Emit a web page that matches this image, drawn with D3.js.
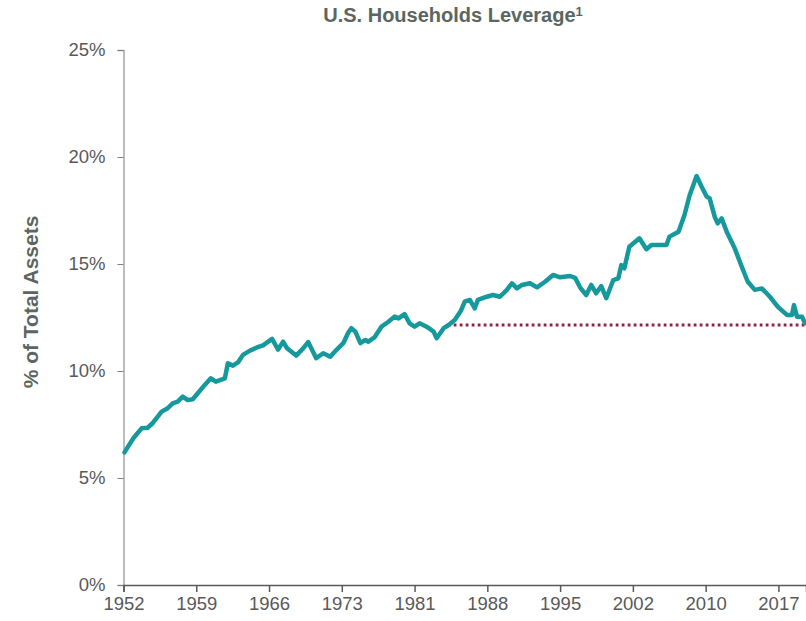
<!DOCTYPE html>
<html>
<head>
<meta charset="utf-8">
<script src="https://cdn.jsdelivr.net/npm/d3@7"></script>
<style>
  html, body { margin: 0; padding: 0; background: #fff; }
  svg { display: block; }
</style>
</head>
<body>
<svg id="chart" width="806" height="621"></svg>
<script>
// ---- data ----
const years = [1952.1,1952.5,1953.0,1953.8,1954.4,1954.9,1955.8,1956.4,1956.9,1957.4,1957.9,1958.4,1958.9,1959.4,1960.1,1960.7,1961.2,1962.1,1962.4,1962.9,1963.4,1963.9,1964.6,1965.3,1965.9,1966.8,1967.4,1967.9,1968.3,1969.2,1969.9,1970.4,1971.2,1971.9,1972.6,1973.2,1973.9,1974.4,1974.7,1975.1,1975.6,1976.1,1976.4,1977.0,1977.7,1978.4,1979.0,1979.4,1980.0,1980.5,1981.0,1981.5,1982.2,1982.9,1983.2,1983.9,1984.4,1985.0,1985.6,1986.0,1986.5,1987.0,1987.3,1988.2,1988.8,1989.5,1990.2,1990.7,1991.2,1991.7,1992.5,1993.2,1994.0,1994.8,1995.5,1996.5,1997.0,1997.5,1998.1,1998.6,1999.1,1999.6,2000.1,2000.8,2001.3,2001.6,2001.9,2002.4,2003.4,2004.1,2004.6,2006.1,2006.4,2007.3,2007.9,2008.4,2009.1,2009.6,2010.1,2010.4,2010.9,2011.2,2011.6,2012.1,2012.9,2013.6,2014.2,2014.9,2015.6,2016.4,2017.2,2018.1,2018.6,2018.8,2019.1,2019.6,2019.9];
const leverage = [6.2,6.5,6.87,7.32,7.35,7.56,8.1,8.26,8.49,8.57,8.8,8.64,8.68,8.96,9.35,9.66,9.5,9.66,10.36,10.25,10.4,10.75,10.95,11.1,11.2,11.5,11.0,11.37,11.06,10.72,11.06,11.35,10.6,10.83,10.67,10.98,11.3,11.8,12.0,11.84,11.3,11.45,11.37,11.57,12.07,12.3,12.54,12.46,12.66,12.23,12.07,12.23,12.07,11.84,11.53,12.0,12.15,12.38,12.8,13.24,13.32,12.93,13.32,13.47,13.55,13.47,13.79,14.1,13.86,14.02,14.1,13.91,14.17,14.49,14.38,14.44,14.35,13.9,13.55,14.02,13.63,13.97,13.4,14.25,14.33,14.95,14.8,15.81,16.2,15.69,15.89,15.89,16.28,16.51,17.3,18.2,19.11,18.61,18.15,18.07,17.21,16.9,17.13,16.51,15.73,14.87,14.17,13.79,13.86,13.47,13.0,12.62,12.62,13.08,12.54,12.54,12.23];
const refYears = [1984.3, 2020];
const refValue = 12.15;
const xTickValues = [1952,1959.25,1966.5,1973.75,1981,1988.25,1995.5,2002.75,2010,2017.25];
const xTickLabels = ["1952","1959","1966","1973","1981","1988","1995","2002","2010","2017"];
const yTickValues = [0,5,10,15,20,25];
const titleText = "U.S. Households Leverage";
const titleSup = "1";
const yLabelText = "% of Total Assets";

// ---- drawing ----
const svg = d3.select("#chart");
const font = "'Liberation Sans', Arial, sans-serif";

const x = d3.scaleLinear().domain([1952, 2020]).range([123.5, 806]);
const y = d3.scaleLinear().domain([0, 25]).range([585, 50]);

// title
const t = svg.append("text")
  .attr("x", 453).attr("y", 22)
  .attr("text-anchor", "middle")
  .attr("font-family", font).attr("font-weight", "bold")
  .attr("font-size", 20).attr("fill", "#5b6661")
  .text(titleText);
t.append("tspan").attr("dy", -6).attr("font-size", 13).text(titleSup);

// y label
svg.append("text")
  .attr("transform", "translate(38," + 302 + ") rotate(-90)")
  .attr("text-anchor", "middle")
  .attr("font-family", font).attr("font-weight", "bold")
  .attr("font-size", 21).attr("fill", "#5b6661")
  .text(yLabelText);

// y axis
const yAxis = svg.append("g")
  .attr("transform", "translate(" + x(1952) + ",0)")
  .call(d3.axisLeft(y).tickValues(yTickValues).tickSize(6).tickPadding(12).tickFormat(d => d + "%"));
yAxis.select(".domain").attr("stroke", "#a6a6a6").attr("stroke-width", 1.5);
yAxis.selectAll(".tick line").attr("stroke", "#7f7f7f").attr("stroke-width", 1);
yAxis.selectAll(".tick text").attr("font-family", font).attr("font-size", 18.5).attr("fill", "#595959");

// x axis
const xAxis = svg.append("g")
  .attr("transform", "translate(0," + y(0) + ")")
  .call(d3.axisBottom(x).tickValues(xTickValues).tickSize(7).tickPadding(5)
    .tickFormat((d, i) => xTickLabels[i]));
xAxis.select(".domain").attr("stroke", "#595959").attr("stroke-width", 1.5);
xAxis.selectAll(".tick line").attr("stroke", "#595959").attr("stroke-width", 1.5);
xAxis.selectAll(".tick text").attr("font-family", font).attr("font-size", 18.5).attr("fill", "#595959");

// reference dotted line
svg.append("line")
  .attr("x1", x(refYears[0])).attr("x2", x(refYears[1]))
  .attr("y1", y(refValue)).attr("y2", y(refValue))
  .attr("stroke", "#8e2446").attr("stroke-width", 2.8)
  .attr("stroke-dasharray", "2.8,3.2");

// series line
const data = years.map((yr, i) => [yr, leverage[i]]);
svg.append("path")
  .datum(data)
  .attr("fill", "none")
  .attr("stroke", "#16999d")
  .attr("stroke-width", 4.5)
  .attr("stroke-linejoin", "round")
  .attr("stroke-linecap", "round")
  .attr("d", d3.line().x(d => x(d[0])).y(d => y(d[1])));
</script>
</body>
</html>
